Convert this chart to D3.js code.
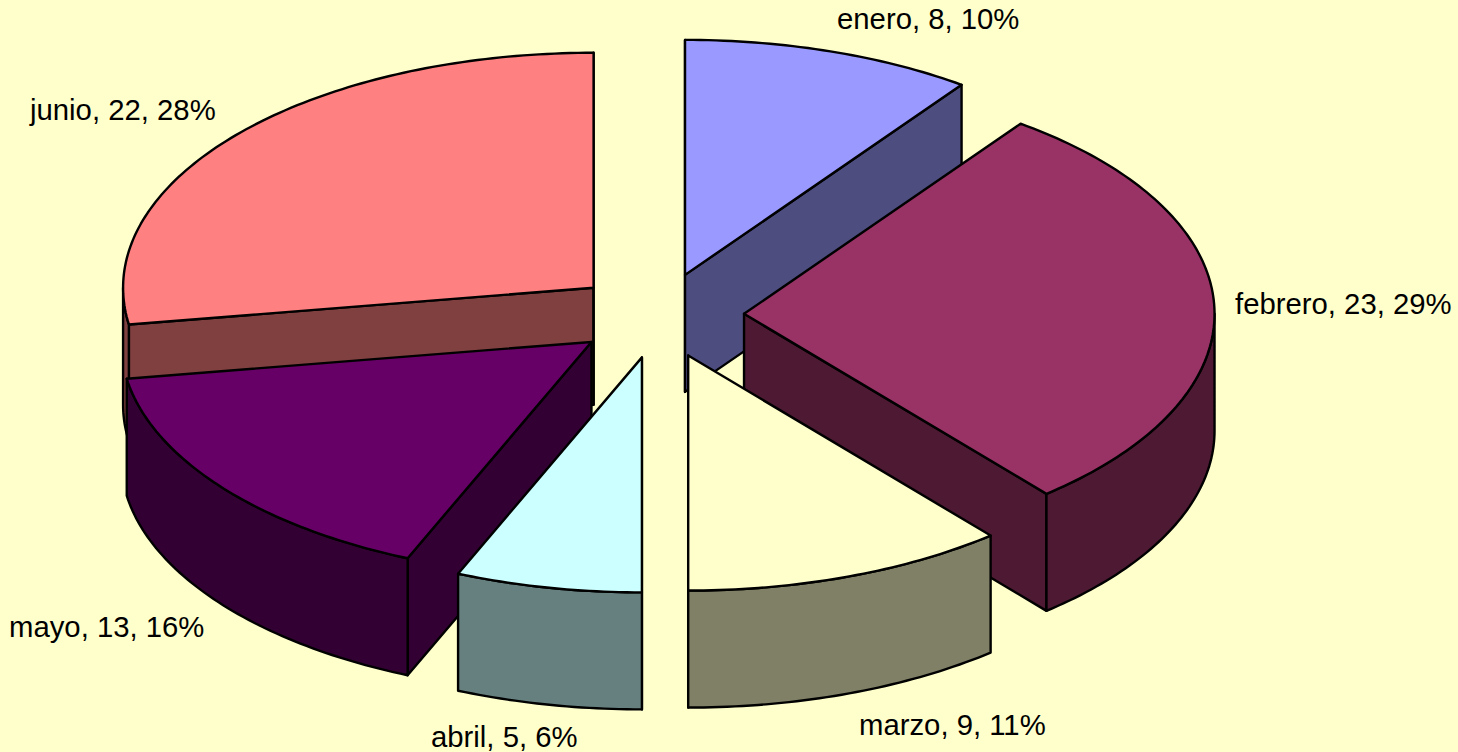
<!DOCTYPE html>
<html>
<head>
<meta charset="utf-8">
<script src="https://cdn.jsdelivr.net/npm/d3@7"></script>
<style>
  html, body { margin: 0; padding: 0; background: #FFFFCC; overflow: hidden; }
  text { font-family: "Liberation Sans", Arial, sans-serif; font-size: 29.3px; fill: #000; }
</style>
</head>
<body>
<svg width="1458" height="752"></svg>
<script>
const months = ["enero", "febrero", "marzo", "abril", "mayo", "junio"];
const counts = [8, 23, 9, 5, 13, 22];

const topColors = ["#9999FF", "#993366", "#FFFFCC", "#CCFFFF", "#660066", "#FF8080"];
const sideColors = ["#4D4D80", "#4D1933", "#808066", "#668080", "#330033", "#804040"];

// left end and baseline of each label
const labelX = [837, 1235, 859, 431, 9, 30];
const labelY = [29, 314, 735, 747, 637, 120];

// back to front
const drawOrder = [5, 0, 1, 4, 3, 2];

const cx = 658.6, cy = 315.5, rx = 470.5, ry = 235, depth = 117, explode = 85.5 / 470.5;

const x = d3.scaleLinear().domain([-1, 1]).range([cx - rx, cx + rx]);
const y = d3.scaleLinear().domain([-1, 1]).range([cy - ry, cy + ry]);

const total = d3.sum(counts);
const slices = d3.pie().sort(null).startAngle(0).endAngle(2 * Math.PI)(counts);
const line = d3.line();

const svg = d3.select("svg");

// the original snaps slice edges to whole degrees
function snap(a) {
    return Math.round(a * 180 / Math.PI + 1e-9) * Math.PI / 180;
}

function arcPoints(a0, a1, ox, oy, dz) {
    const n = Math.max(2, Math.ceil((a1 - a0) * 60));
    return d3.range(n + 1).map(function (i) {
        const a = a0 + (a1 - a0) * i / n;
        return [x(ox + Math.sin(a)), y(oy - Math.cos(a)) + dz];
    });
}

function face(pts, fill) {
    svg.append("path")
        .attr("d", line(pts) + "Z")
        .attr("fill", fill)
        .attr("stroke", "#000")
        .attr("stroke-width", 2.4)
        .attr("stroke-linejoin", "round");
}

drawOrder.forEach(function (i) {
    const s = slices[i];
    const a0 = snap(s.startAngle), a1 = snap(s.endAngle);
    const mid = (s.startAngle + s.endAngle) / 2;
    const ox = explode * Math.sin(mid), oy = -explode * Math.cos(mid);
    const apex = [x(ox), y(oy)];
    const side = sideColors[i];

    // cut faces that look toward the viewer
    [[a0, -1], [a1, 1]].forEach(function (e) {
        const sn = Math.sin(e[0]) * e[1];
        if (sn < -1e-6) return;
        const rim = arcPoints(e[0], e[0], ox, oy, 0)[0];
        face([apex, rim, [rim[0], rim[1] + depth], [apex[0], apex[1] + depth]], side);
    });

    // outer wall, front half of the ellipse only
    const w0 = Math.max(a0, Math.PI / 2), w1 = Math.min(a1, 3 * Math.PI / 2);
    if (w1 > w0) {
        const upper = arcPoints(w0, w1, ox, oy, 0);
        const lower = arcPoints(w0, w1, ox, oy, depth).reverse();
        face(upper.concat(lower), side);
    }

    face([apex].concat(arcPoints(a0, a1, ox, oy, 0)), topColors[i]);
});

svg.selectAll("text.label")
    .data(months)
    .enter()
    .append("text")
    .attr("class", "label")
    .attr("x", function (d, i) { return labelX[i]; })
    .attr("y", function (d, i) { return labelY[i]; })
    .text(function (d, i) { return d + ", " + counts[i] + ", " + Math.round(counts[i] / total * 100) + "%"; });
</script>
</body>
</html>
